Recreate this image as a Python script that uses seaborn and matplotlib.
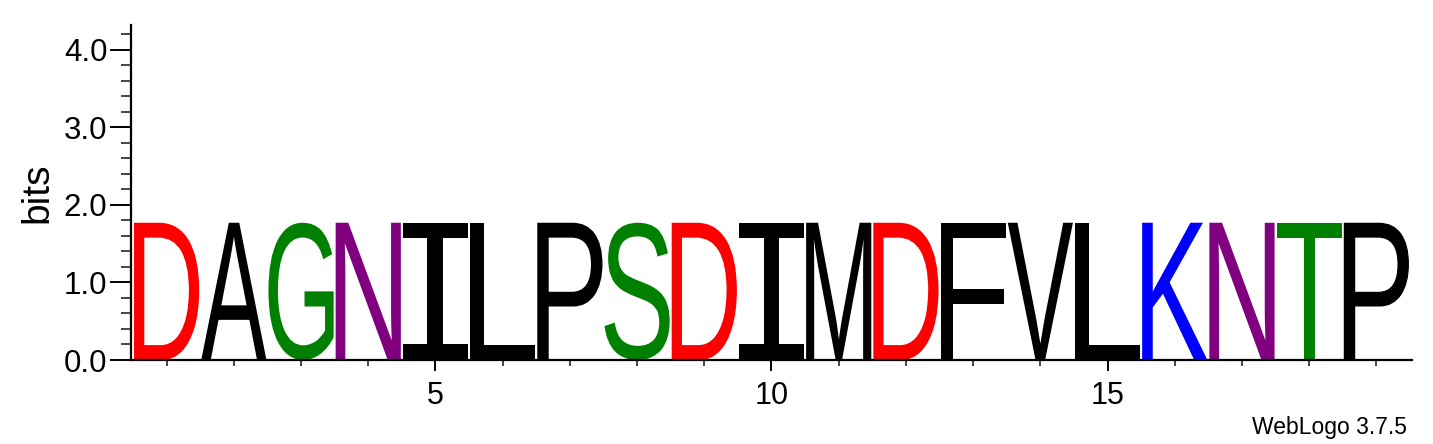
import numpy as np
import pandas as pd
import seaborn as sns
import matplotlib
matplotlib.use("Agg")
import matplotlib.pyplot as plt
from matplotlib.textpath import TextPath
from matplotlib.patches import PathPatch
from matplotlib.font_manager import FontProperties
from matplotlib.transforms import Affine2D
from matplotlib.ticker import MultipleLocator, FixedLocator

# ---- data ----
positions = [1, 2, 3, 4, 5, 6, 7, 8, 9, 10, 11, 12, 13, 14, 15, 16, 17, 18, 19]
letters = ["D", "A", "G", "N", "I", "L", "P", "S", "D", "I",
           "M", "D", "F", "V", "L", "K", "N", "T", "P"]
bits = [1.77, 1.77, 1.77, 1.77, 1.77, 1.77, 1.77, 1.77, 1.77, 1.77,
        1.77, 1.77, 1.77, 1.77, 1.77, 1.77, 1.77, 1.77, 1.77]
y_ticks = [0.0, 1.0, 2.0, 3.0, 4.0]
x_ticks = [5, 10, 15]

color_map = {
    "D": "#FF0000", "E": "#FF0000",
    "G": "#008000", "S": "#008000", "T": "#008000", "Y": "#008000", "C": "#008000",
    "N": "#800080", "Q": "#800080",
    "K": "#0000FF", "R": "#0000FF", "H": "#0000FF",
}

df = pd.DataFrame({"pos": positions, "letter": letters, "bits": bits})

sns.set_style("ticks")
plt.rcParams["font.family"] = ["Liberation Sans", "DejaVu Sans"]

W, H = 1433, 444
fig = plt.figure(figsize=(W / 100, H / 100), dpi=100)
ax = fig.add_axes([131 / W, 84 / H, (1412 - 131) / W, (360 - 25) / H])

fp_main = FontProperties(family="Liberation Sans", weight="normal")
fp_I = FontProperties(family="DejaVu Sans Mono", weight="normal")


def draw_letter(ax, ch, x, h, color, width=0.97):
    fp = fp_I if ch == "I" else fp_main
    tp = TextPath((0, 0), ch, size=1, prop=fp)
    bb = tp.get_extents()
    t = (Affine2D().translate(-bb.x0, -bb.y0)
         .scale(width / bb.width, h / bb.height)
         .translate(x - width / 2, 0))
    ax.add_patch(PathPatch(t.transform_path(tp), fc=color, ec="none", lw=0))


for _, r in df.iterrows():
    draw_letter(ax, r["letter"], r["pos"], r["bits"], color_map.get(r["letter"], "black"))

ax.set_xlim(0.47, 19.53)
ax.set_ylim(0, 4.32)

sns.despine(ax=ax)
for s in ["left", "bottom"]:
    ax.spines[s].set_linewidth(1.6)
    ax.spines[s].set_color("black")

ax.yaxis.set_major_locator(FixedLocator(y_ticks))
ax.set_yticklabels([f"{v:.1f}" for v in y_ticks])
ax.yaxis.set_minor_locator(MultipleLocator(0.2))
ax.xaxis.set_major_locator(FixedLocator(x_ticks))
ax.set_xticklabels([str(v) for v in x_ticks])
ax.xaxis.set_minor_locator(FixedLocator(positions))

ax.tick_params(axis="y", which="major", direction="out", length=15, width=1.4,
               labelsize=22.5, pad=2, colors="black")
ax.tick_params(axis="y", which="minor", direction="out", length=7.5, width=1.2)
ax.tick_params(axis="x", which="major", direction="out", length=8, width=1.4,
               labelsize=22, pad=7, colors="black")
ax.tick_params(axis="x", which="minor", direction="out", length=4, width=1.2)

ax.set_ylabel("bits", fontsize=28, labelpad=6, color="black")
ax.set_xlabel("")
ax.set_facecolor("white")

fig.text(1407 / W, 10 / H, "WebLogo 3.7.5", ha="right", va="baseline",
         fontsize=16.5, color="black")

fig.savefig("out.png", dpi=100, facecolor="white")
